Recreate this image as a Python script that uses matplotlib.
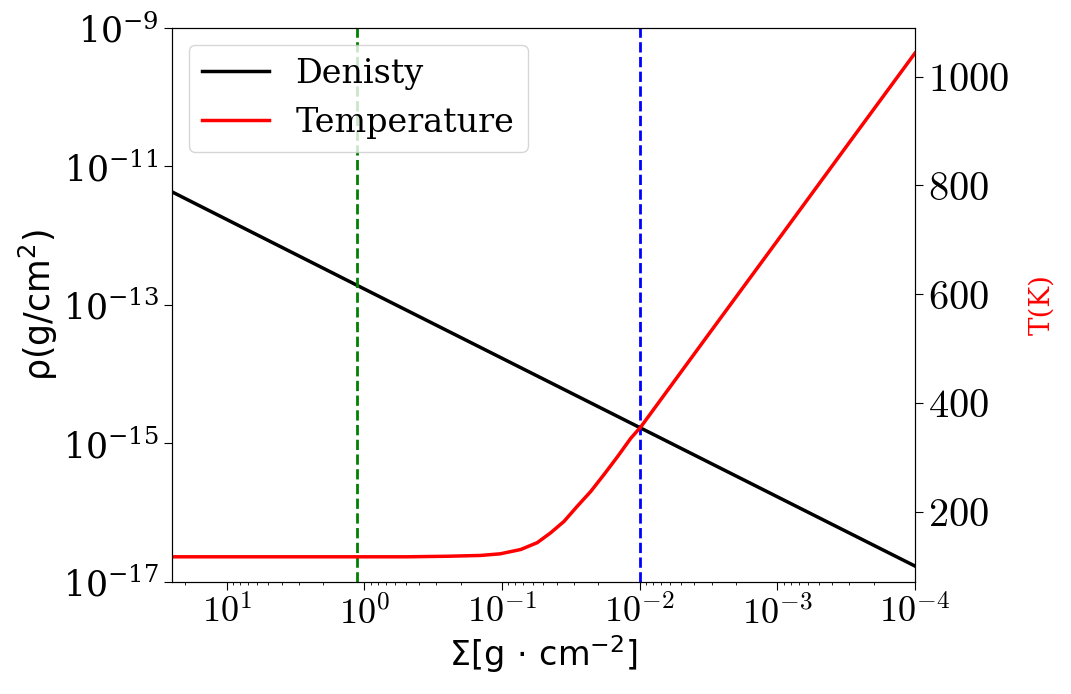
import matplotlib
matplotlib.use("Agg")
import matplotlib.pyplot as plt
import numpy as np

# density line (straight on log-log)
sigmaRho = [25, 1, 0.01, 1e-4]
rho = [4.3e-12, 1.7e-13, 1.7e-15, 1.7e-17]

# temperature curve
sigmaT = [25, 10, 3, 1, 0.5, 0.25, 0.143, 0.103, 0.073, 0.0555, 0.0444, 0.0355,
          0.0284, 0.0227, 0.0182, 0.0145, 0.0116, 0.0098, 0.0056, 0.0032,
          0.001, 0.00032, 0.0001]
temp = [117, 117, 117, 117, 117, 118, 119.5, 122.5, 130.5, 143, 161, 182,
        210, 237, 268, 301, 335, 356, 440, 524, 698, 869, 1043]

# vertical markers
greenX = 1.13
blueX = 0.01

xTicks = [10, 1, 0.1, 0.01, 0.001, 0.0001]
xTickLabels = [r'$10^{1}$', r'$10^{0}$', r'$10^{-1}$', r'$10^{-2}$', r'$10^{-3}$', r'$10^{-4}$']
yTicks = [1e-17, 1e-15, 1e-13, 1e-11, 1e-9]
tTicks = [200, 400, 600, 800, 1000]
tTickLabels = [r'$200$', r'$400$', r'$600$', r'$800$', r'$1000$']

plt.rcParams['font.family'] = 'serif'
plt.rcParams['font.serif'] = ['DejaVu Serif']

fig = plt.figure(figsize=[10.71, 6.94], dpi=100)
ax1 = fig.add_axes([0.1606, 0.1614, 0.6937, 0.7983])
ax2 = ax1.twinx()

l1, = ax1.plot(sigmaRho, rho, color='black', lw=2.5, label='Denisty')
ax1.axvline(greenX, color='green', ls='--', lw=2)
ax1.axvline(blueX, color='blue', ls='--', lw=2)
l2, = ax2.plot(sigmaT, temp, color='red', lw=2.5, label='Temperature')

ax1.set_xscale('log')
ax1.set_yscale('log')
ax1.set_xlim(25, 1e-4)
ax1.set_ylim(1e-17, 1e-9)
ax1.set_yticks(yTicks)
ax1.yaxis.set_minor_locator(matplotlib.ticker.NullLocator())
ax1.set_xticks(xTicks)
ax1.set_xticklabels(xTickLabels, math_fontfamily='cm')
ax1.tick_params(axis='both', which='major', length=6)
ax1.tick_params(axis='y', labelsize=25)
ax1.tick_params(axis='x', labelsize=26)
ax2.set_yticks(tTicks)
ax2.set_yticklabels(tTickLabels, math_fontfamily='cm')
ax2.tick_params(axis='y', labelsize=29, length=6)

ax1.set_ylabel('ρ(g/cm$^2$)', family='DejaVu Sans', fontsize=25, math_fontfamily='dejavusans', labelpad=2)
ax1.set_xlabel(r'Σ[g$\,\cdot\,$cm$^{-2}$]', family='DejaVu Sans', fontsize=24, math_fontfamily='dejavusans', labelpad=2)
ax2.set_ylabel('T(K)', color='red', fontsize=20, labelpad=14)

ax2.legend(handles=[l1, l2], loc='upper left', fontsize=24)

plt.savefig('out.png', dpi=100)
